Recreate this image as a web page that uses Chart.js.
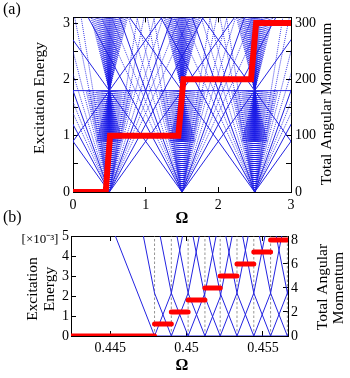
<!DOCTYPE html>
<html>
<head>
<meta charset="utf-8">
<script src="https://cdn.jsdelivr.net/npm/chart.js@4.4.1/dist/chart.umd.min.js"></script>
<style>
  html, body { margin: 0; padding: 0; background: #fff; }
  #wrap { position: relative; width: 350px; height: 378px; overflow: hidden; }
  canvas { position: absolute; left: 0; }
  #chartA { top: 0; }
  #chartB { top: 205px; }
</style>
</head>
<body>
<div id="wrap">
  <canvas id="chartA" width="350" height="228"></canvas>
  <canvas id="chartB" width="350" height="173"></canvas>
</div>
<script>
// ---- (a) full range of Omega ----
const omegaRangeA = [0, 3];
const energyRangeA = [0, 3.1];
const momentumRangeA = [0, 310];
const stepOmegaA = [0, 0.45, 0.51, 1.45, 1.52, 2.45, 2.52, 3];
const stepMomentumA = [0, 0, 100, 100, 200, 200, 300, 300];
const fanOmegaA = [0.5, 1.5, 2.5];            // where the fans touch E = 0
const latticeOmegaA = [-0.5, 0.5, 1.5, 2.5, 3.5];
const latticeSlopeA = 1.8;
const flatLevelA = 1.8;
const solidSlopesA = [2.4, 3.6];
const sparseSlopesA = [2.8, 3.2, 4.2, 5, 6.5, 8];
// Omega offset, at the flat level, of the dotted lines rising from each fan point
const lowerFanOffsetsA = [0.32, 0.3, 0.28, 0.26, 0.24, 0.22, 0.2, 0.18, 0.165, 0.15, 0.135, 0.12,
  0.108, 0.096, 0.085, 0.074, 0.064, 0.055, 0.046, 0.038, 0.03, 0.022, 0.015, 0.008, 0.002];
// Omega offset, at the top edge, of the dotted lines crossing at (fan point, flat level)
const upperFanOffsetsA = [0.27, 0.25, 0.23, 0.21, 0.19, 0.175, 0.16, 0.145, 0.13, 0.118, 0.106,
  0.094, 0.083, 0.072, 0.062, 0.052, 0.043, 0.034, 0.026, 0.018, 0.01, 0.003];
const upperFanFloorA = 0.9;

// ---- (b) close-up of the first step ----
const omegaRangeB = [0.44243, 0.45664];
const energyRangeB = [0, 5];
const momentumRangeB = [0, 8.33];
const transitionOmegaB = [0.4479, 0.4490, 0.4501, 0.4512, 0.4522, 0.4533, 0.4544, 0.4555, 0.4566, 0.4577];
const momentumLevelsB = [0, 1, 2, 3, 4, 5, 6, 7, 8];
const energySlopeB = 1950;   // x10^-3 energy per unit Omega and per unit of L
const omegaTicksB = [0.445, 0.45, 0.455];

const BLUE = 'rgb(35,35,225)';
const RED = '#ff0000';
const FONT = 'Liberation Serif';

function seg(list, x1, y1, x2, y2) {
  list.push({ x: x1, y: y1 }, { x: x2, y: y2 }, { x: x2, y: null });
}

// text that chart.js does not place where we want (rotated titles etc.)
function textPlugin(items) {
  return {
    id: 'texts',
    afterDraw(chart) {
      const ctx = chart.ctx;
      items.forEach(t => {
        ctx.save();
        ctx.font = t.font;
        ctx.fillStyle = '#000';
        ctx.textAlign = t.align || 'center';
        ctx.textBaseline = 'middle';
        ctx.translate(t.x, t.y);
        if (t.rot) ctx.rotate(t.rot);
        ctx.fillText(t.text, 0, 0);
        ctx.restore();
      });
    }
  };
}

function axisStyle(extra) {
  return Object.assign({
    type: 'linear',
    border: { display: true, color: '#000', width: 1 },
    grid: { display: true, drawOnChartArea: false, color: '#000', tickLength: -5, tickWidth: 1 },
    ticks: { color: '#000', font: { family: FONT, size: 14 }, includeBounds: false }
  }, extra);
}

// ================= chart (a) =================
const TOP_A = 3.2;
const latticeData = [];
latticeOmegaA.forEach(b => {
  seg(latticeData, b, 0, b + TOP_A / latticeSlopeA, TOP_A);
  seg(latticeData, b, 0, b - TOP_A / latticeSlopeA, TOP_A);
});
seg(latticeData, omegaRangeA[0], flatLevelA, omegaRangeA[1], flatLevelA);
fanOmegaA.forEach(v => {
  solidSlopesA.forEach(s => {
    seg(latticeData, v, 0, v + TOP_A / s, TOP_A);
    seg(latticeData, v, 0, v - TOP_A / s, TOP_A);
  });
});

const fanData = [];
fanOmegaA.forEach(v => {
  sparseSlopesA.forEach(s => {
    seg(fanData, v, 0, v + TOP_A / s, TOP_A);
    seg(fanData, v, 0, v - TOP_A / s, TOP_A);
  });
  lowerFanOffsetsA.forEach(d => {
    seg(fanData, v, 0, v + d, flatLevelA);
    seg(fanData, v, 0, v - d, flatLevelA);
  });
  const rise = TOP_A - flatLevelA, drop = flatLevelA - upperFanFloorA;
  upperFanOffsetsA.forEach(d => {
    seg(fanData, v - d * drop / rise, upperFanFloorA, v + d, TOP_A);
    seg(fanData, v + d * drop / rise, upperFanFloorA, v - d, TOP_A);
  });
});

const stepDataA = stepOmegaA.map((x, i) => ({ x, y: stepMomentumA[i] }));

new Chart(document.getElementById('chartA'), {
  type: 'scatter',
  data: {
    datasets: [
      { data: stepDataA, yAxisID: 'y1', showLine: true, borderColor: RED, borderWidth: 6,
        borderJoinStyle: 'miter', pointRadius: 0, clip: 0, order: 0 },
      { data: latticeData, showLine: true, borderColor: BLUE, borderWidth: 1,
        pointRadius: 0, spanGaps: false, order: 1 },
      { data: fanData, showLine: true, borderColor: 'rgb(30,30,230)', borderWidth: 0.85,
        borderDash: [1, 1], pointRadius: 0, spanGaps: false, order: 2 }
    ]
  },
  options: {
    responsive: false,
    animation: false,
    events: [],
    layout: { padding: { top: 12, left: 0, right: 0, bottom: 0 } },
    plugins: { legend: { display: false }, tooltip: { enabled: false } },
    scales: {
      x: axisStyle({ position: 'bottom', min: omegaRangeA[0], max: omegaRangeA[1],
        ticks: { color: '#000', font: { family: FONT, size: 14 }, stepSize: 1, padding: 10 },
        afterFit: s => { s.height = 36; } }),
      xTop: axisStyle({ position: 'top', min: omegaRangeA[0], max: omegaRangeA[1],
        ticks: { display: false, stepSize: 1 },
        afterFit: s => { s.height = 0; } }),
      y: axisStyle({ position: 'left', min: energyRangeA[0], max: energyRangeA[1],
        ticks: { color: '#000', font: { family: FONT, size: 14 }, stepSize: 0.5, includeBounds: false, padding: 8,
          callback: v => Number.isInteger(v) ? v : '' },
        afterFit: s => { s.width = 73; } }),
      y1: axisStyle({ position: 'right', min: momentumRangeA[0], max: momentumRangeA[1],
        ticks: { color: '#000', font: { family: FONT, size: 14 }, stepSize: 50, includeBounds: false, padding: 9,
          callback: v => v % 100 === 0 ? v : '' },
        afterFit: s => { s.width = 59; } })
    }
  },
  plugins: [textPlugin([
    { text: '(a)', x: 3, y: 10, align: 'left', font: `16px ${FONT}` },
    { text: 'Excitation Energy', x: 40, y: 98, rot: -Math.PI / 2, font: `15.5px ${FONT}` },
    { text: 'Total Angular Momentum', x: 327, y: 104, rot: -Math.PI / 2, font: `15.5px ${FONT}` },
    { text: 'Ω', x: 182, y: 219, font: `bold 16px ${FONT}` }
  ])]
});

// ================= chart (b) =================
function excitation(L, w) {
  const energy = k => {
    let e = 0;
    for (let j = 0; j < k; j++) e += transitionOmegaB[j] - w;
    return energySlopeB * e;
  };
  let ground = Infinity;
  for (let k = 0; k <= transitionOmegaB.length; k++) ground = Math.min(ground, energy(k));
  return energy(L) - ground;
}

const breaksB = [omegaRangeB[0],
  ...transitionOmegaB.filter(t => t > omegaRangeB[0] && t < omegaRangeB[1]),
  omegaRangeB[1]];

const levelData = [];
for (let L = 0; L <= transitionOmegaB.length; L++) {
  breaksB.forEach(w => levelData.push({ x: w, y: excitation(L, w) }));
  levelData.push({ x: omegaRangeB[1], y: null });
}

const guideData = [];
transitionOmegaB.filter(t => t <= omegaRangeB[1]).forEach(t => seg(guideData, t, 0, t, energyRangeB[1]));

const stepDataB = [];
momentumLevelsB.forEach((L, i) => {
  const from = i === 0 ? omegaRangeB[0] : transitionOmegaB[i - 1];
  seg(stepDataB, from, L, transitionOmegaB[i], L);
});

new Chart(document.getElementById('chartB'), {
  type: 'scatter',
  data: {
    datasets: [
      { data: stepDataB, yAxisID: 'y1', showLine: true, borderColor: RED, borderWidth: 5,
        borderCapStyle: 'round', pointRadius: 0, spanGaps: false, order: 0 },
      { data: levelData, showLine: true, borderColor: BLUE, borderWidth: 1,
        pointRadius: 0, spanGaps: false, order: 1 },
      { data: guideData, showLine: true, borderColor: '#666', borderWidth: 0.7,
        borderDash: [2.5, 2], pointRadius: 0, spanGaps: false, order: 2 }
    ]
  },
  options: {
    responsive: false,
    animation: false,
    events: [],
    layout: { padding: { top: 31, left: 0, right: 0, bottom: 0 } },
    plugins: { legend: { display: false }, tooltip: { enabled: false } },
    scales: {
      x: axisStyle({ position: 'bottom', min: omegaRangeB[0], max: omegaRangeB[1],
        ticks: { color: '#000', font: { family: FONT, size: 14 }, padding: 9, callback: v => String(v) },
        afterBuildTicks: s => { s.ticks = omegaTicksB.map(v => ({ value: v })); },
        afterFit: s => { s.height = 42; } }),
      xTop: axisStyle({ position: 'top', min: omegaRangeB[0], max: omegaRangeB[1],
        ticks: { display: false },
        afterBuildTicks: s => { s.ticks = omegaTicksB.map(v => ({ value: v })); },
        afterFit: s => { s.height = 0; } }),
      y: axisStyle({ position: 'left', min: energyRangeB[0], max: energyRangeB[1],
        ticks: { color: '#000', font: { family: FONT, size: 14 }, stepSize: 1, padding: 7 },
        afterFit: s => { s.width = 71; } }),
      y1: axisStyle({ position: 'right', min: momentumRangeB[0], max: momentumRangeB[1],
        ticks: { color: '#000', font: { family: FONT, size: 14 }, stepSize: 1, includeBounds: false, padding: 8,
          callback: v => v % 2 === 0 ? v : '' },
        afterFit: s => { s.width = 62; } })
    }
  },
  plugins: [textPlugin([
    { text: '(b)', x: 3, y: 13, align: 'left', font: `16px ${FONT}` },
    { text: '[×10⁻³]', x: 40, y: 35, font: `13px ${FONT}` },
    { text: 'Excitation', x: 33, y: 84, rot: -Math.PI / 2, font: `15.5px ${FONT}` },
    { text: 'Energy', x: 50, y: 84, rot: -Math.PI / 2, font: `15.5px ${FONT}` },
    { text: 'Total Angular', x: 323, y: 82, rot: -Math.PI / 2, font: `15.5px ${FONT}` },
    { text: 'Momentum', x: 339, y: 83, rot: -Math.PI / 2, font: `15.5px ${FONT}` },
    { text: 'Ω', x: 182, y: 161, font: `bold 16px ${FONT}` }
  ])]
});
</script>
</body>
</html>
